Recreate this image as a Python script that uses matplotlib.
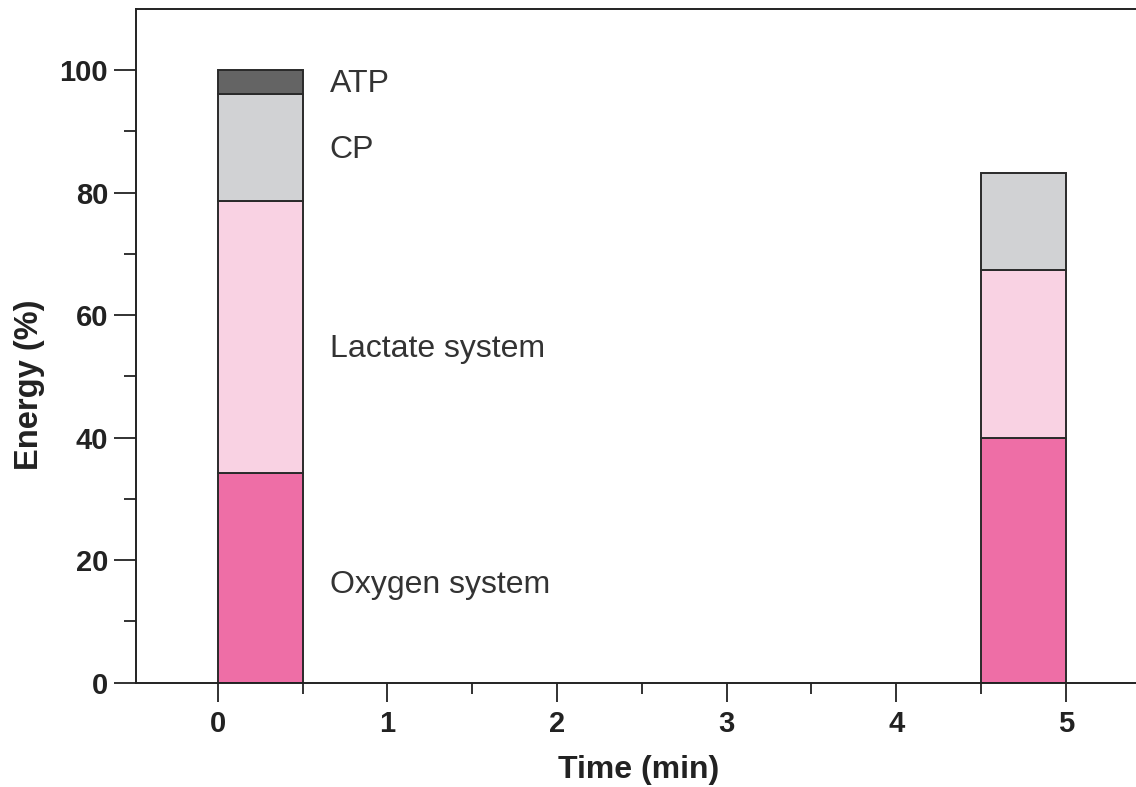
import matplotlib
matplotlib.use("Agg")
import matplotlib.pyplot as plt
from matplotlib.ticker import FixedLocator

plt.rcParams['font.family'] = ['Liberation Sans', 'DejaVu Sans']

times = [0, 5]
bar_left = [0.0, 4.5]
oxygen = [34.3, 39.9]
lactate = [44.3, 27.5]
cp = [17.5, 15.8]
atp = [3.9, 0.0]
x_ticks = [0, 1, 2, 3, 4, 5]
x_minor = [0.5, 1.5, 2.5, 3.5, 4.5]
y_ticks = [0, 20, 40, 60, 80, 100]
y_minor = [10, 30, 50, 70, 90]

labels = ["ATP", "CP", "Lactate system", "Oxygen system"]
label_y = [97.7, 87.0, 54.5, 15.9]

c_oxy = "#EE6EA6"
c_lac = "#F9D2E3"
c_cp = "#D1D2D4"
c_atp = "#646464"
edge = "#2a2a2a"

fig = plt.figure(figsize=(11.36, 7.87), dpi=100)
ax = fig.add_axes([136/1136, (787-682.7)/787, 1 - 136/1136, (682.7-9)/787])

w = 0.5
bottom = [0.0, 0.0]
for vals, col in [(oxygen, c_oxy), (lactate, c_lac), (cp, c_cp), (atp, c_atp)]:
    for i in range(2):
        if vals[i] > 0:
            ax.bar(bar_left[i], vals[i], width=w, bottom=bottom[i], align='edge',
                   color=col, edgecolor=edge, linewidth=1.4, zorder=2)
    bottom = [bottom[i] + vals[i] for i in range(2)]

ax.set_xlim(-0.483, 5.414)
ax.set_ylim(0, 110)
ax.set_xticks(x_ticks)
ax.set_yticks(y_ticks)
ax.xaxis.set_minor_locator(FixedLocator(x_minor))
ax.yaxis.set_minor_locator(FixedLocator(y_minor))

ax.tick_params(axis='y', which='major', length=16, width=1.3, pad=4, labelsize=21, color='#222')
ax.tick_params(axis='y', which='minor', length=8.5, width=1.3, color='#222')
ax.tick_params(axis='x', which='major', length=14, width=1.3, pad=6, labelsize=21, color='#222')
ax.tick_params(axis='x', which='minor', length=8, width=1.3, color='#222')
for lab in ax.get_xticklabels() + ax.get_yticklabels():
    lab.set_fontweight('bold')
    lab.set_color('#222')

for s in ['left', 'bottom', 'top']:
    ax.spines[s].set_linewidth(1.4)
    ax.spines[s].set_color('#222')
ax.spines['right'].set_visible(False)

ax.set_xlabel("Time (min)", fontsize=23, fontweight='bold', color='#222')
ax.xaxis.set_label_coords(0.503, -0.107)
ax.xaxis.label.set_va('top')
ax.set_ylabel("Energy (%)", fontsize=23.5, fontweight='bold', color='#222')
ax.yaxis.set_label_coords(-0.106, 0.443)
ax.yaxis.label.set_va('center')

for t, yv in zip(labels, label_y):
    ax.text(0.66, yv, t, fontsize=23, color='#333', va='center', ha='left')

fig.savefig("out.png", dpi=100, facecolor='white')
